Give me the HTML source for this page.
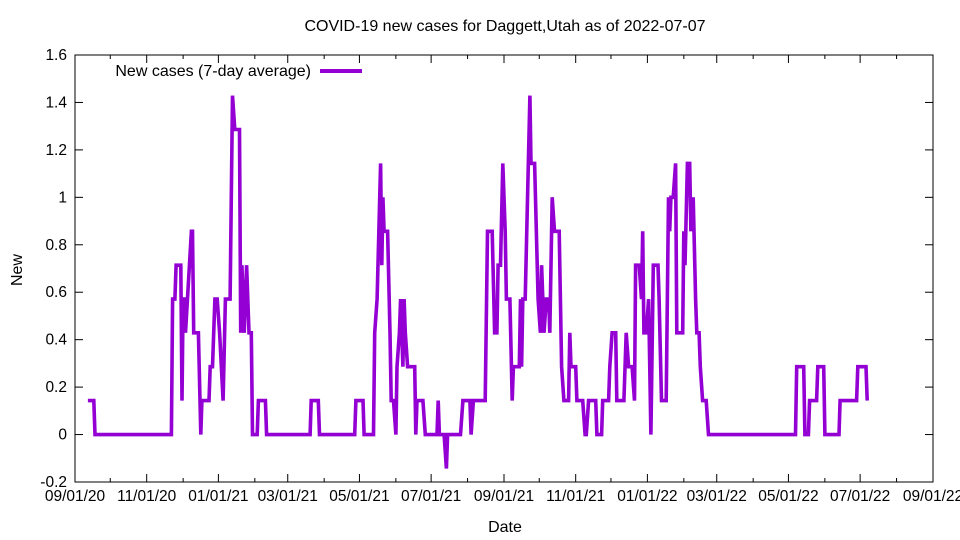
<!DOCTYPE html>
<html><head><meta charset="utf-8"><style>
body{margin:0;background:#fff}
svg{display:block;font-family:"Liberation Sans",sans-serif}
</style></head><body>
<svg id="chart" width="960" height="540">
<text x="505" y="31" font-size="16" text-anchor="middle">COVID-19 new cases for Daggett,Utah as of 2022-07-07</text>
<text x="505" y="532" font-size="16" text-anchor="middle">Date</text>
<text x="22" y="270" font-size="16" text-anchor="middle" transform="rotate(-90 22 270)">New</text>
<g id="axes"></g>
<rect x="75" y="55" width="858" height="427" fill="none" stroke="#000" stroke-width="1"/>
<g>
<text x="311" y="76" font-size="16" text-anchor="end">New cases (7-day average)</text>
<line x1="320" y1="71" x2="362" y2="71" stroke="#9400d3" stroke-width="4"/>
</g>
</svg>
<script>
const yTicks=[1.6,1.4,1.2,1,0.8,0.6,0.4,0.2,0,-0.2];
const xTickLabels=["09/01/20","11/01/20","01/01/21","03/01/21","05/01/21","07/01/21","09/01/21","11/01/21","01/01/22","03/01/22","05/01/22","07/01/22","09/01/22"];
const xTickDays=[0,61,122,181,242,303,365,426,487,546,607,668,730];
const minorDays=[30,92,153,212,273,334,395,456,518,577,638,699];
const days=[11,16,17,82,83,85,86,90,91,92,93,94,99,100,101,105,107,108,114,115,117,119,121,123,126,128,132,134,136,140,141,142,144,146,148,150,151,155,156,162,163,200,201,207,208,238,239,245,246,254,255,257,260,261,262,263,266,268,269,271,273,274,276,277,279,280,281,283,289,290,291,296,298,308,309,310,314,316,317,328,330,336,337,339,349,351,355,357,359,360,362,364,366,367,370,372,373,378,379,380,381,383,387,388,391,394,396,397,399,401,403,404,406,408,412,414,416,420,421,422,426,427,432,434,435,437,443,444,448,449,454,455,457,460,461,467,469,471,474,476,477,480,482,483,484,486,488,490,492,496,497,499,503,505,506,507,509,511,512,517,518,519,521,523,524,526,528,529,531,532,534,537,539,613,614,620,621,624,625,631,632,637,638,650,651,665,666,673,674];
const vals=[.143,.143,0,0,.571,.571,.714,.714,.143,.571,.571,.429,.857,.857,.429,.429,0,.143,.143,.286,.286,.571,.571,.429,.143,.571,.571,1.429,1.286,1.286,.429,.714,.429,.714,.429,.429,0,0,.143,.143,0,0,.143,.143,0,0,.143,.143,0,0,.429,.571,1.143,.714,1.0,.857,.857,.429,.143,.143,0,.286,.429,.571,.286,.571,.429,.286,.286,0,.143,.143,0,0,.143,0,0,-.143,0,0,.143,.143,0,.143,.143,.857,.857,.429,.429,.714,.714,1.143,.857,.571,.571,.143,.286,.286,.571,.286,.571,.571,1.429,1.143,1.143,.571,.429,.714,.429,.571,.571,.429,1.0,.857,.857,.286,.143,.143,.429,.286,.286,.143,.143,0,0,.143,.143,0,0,.143,.143,.286,.429,.429,.143,.143,.429,.286,.286,.143,.714,.714,.571,.857,.429,.429,.571,0,.714,.714,.571,.143,.143,1.0,.857,1.0,1.0,1.143,.429,.429,.857,.714,1.143,1.143,.857,1.0,.571,.429,.429,.286,.143,.143,0,0,.286,.286,0,0,.143,.143,.286,.286,0,0,.143,.143,.286,.286,.143];
const NS="http://www.w3.org/2000/svg";
const X0=75,X1=933,Y0=482,Y1=55,DMAX=730,VMIN=-0.2,VMAX=1.6;
function xs(d){return X0+d*(X1-X0)/DMAX;}
function ys(v){return Y0-(v-VMIN)*(Y0-Y1)/(VMAX-VMIN);}
const svg=document.getElementById('chart');
const ax=document.getElementById('axes');
function mk(tag,attrs,parent){const e=document.createElementNS(NS,tag);for(const k in attrs)e.setAttribute(k,attrs[k]);(parent||ax).appendChild(e);return e;}
yTicks.forEach(v=>{
  const y=ys(v);
  const t=mk('line',{x1:X0,y1:y,x2:X0+8,y2:y,stroke:'#000'});
  
  
  const t2=mk('line',{x1:X1-8,y1:y,x2:X1,y2:y,stroke:'#000'});
  
  
  const l=mk('text',{x:X0-8,y:y+5,'font-size':15.5,'text-anchor':'end'});
  l.textContent=String(v);
  
  
});
xTickDays.forEach((d,i)=>{
  const x=xs(d);
  const t=mk('line',{x1:x,y1:Y0,x2:x,y2:Y0-8,stroke:'#000'});
  
  
  const t2=mk('line',{x1:x,y1:Y1,x2:x,y2:Y1+8,stroke:'#000'});
  
  
  const l=mk('text',{x:x,y:Y0+19,'font-size':15.5,'text-anchor':'middle'});
  l.textContent=xTickLabels[i];
  
  
});
minorDays.forEach(d=>{
  const x=xs(d);
  const t=mk('line',{x1:x,y1:Y0,x2:x,y2:Y0-4,stroke:'#000'});
  
  
  const t2=mk('line',{x1:x,y1:Y1,x2:x,y2:Y1+4,stroke:'#000'});
  
  
});
const pts=days.map((d,i)=>xs(d).toFixed(1)+','+ys(vals[i]).toFixed(1)).join(' ');
const line=mk('polyline',{points:pts,fill:'none',stroke:'#9400d3','stroke-width':3.6,'stroke-linejoin':'miter'},svg);


</script>
</body></html>
